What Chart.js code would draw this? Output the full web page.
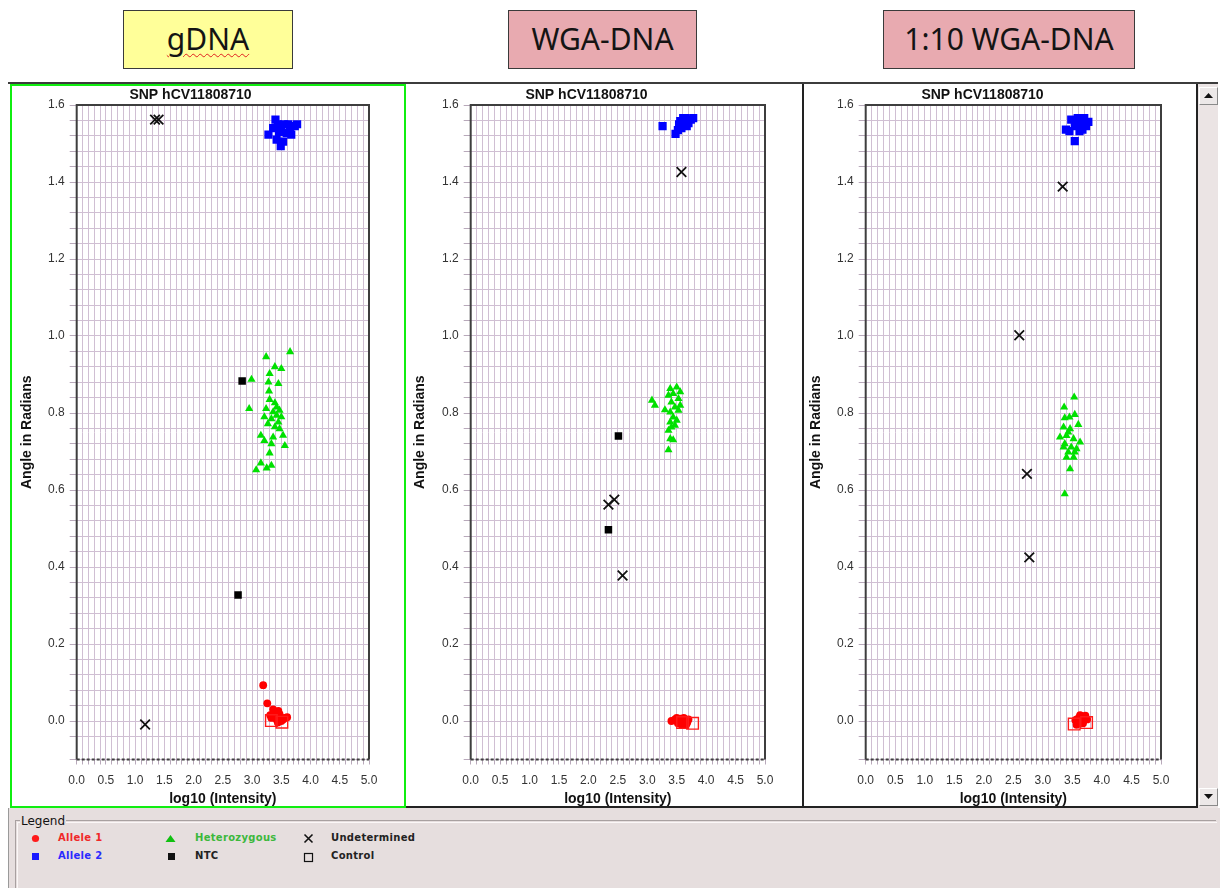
<!DOCTYPE html>
<html>
<head>
<meta charset="utf-8">
<title>SNP hCV11808710 – allelic discrimination</title>
<script src="https://cdn.jsdelivr.net/npm/chart.js@4.4.0/dist/chart.umd.min.js"></script>
<style>
  html, body { margin: 0; padding: 0; background: #ffffff; }
  body { width: 1220px; height: 888px; position: relative; overflow: hidden; font-family: "DejaVu Sans", sans-serif; }
  .tag { position: absolute; top: 10px; height: 59px; box-sizing: border-box; border: 1px solid #3a3a3a;
         display: flex; align-items: center; justify-content: center; font-family: "Noto Sans", sans-serif;
         font-size: 30px; color: #141414; padding-bottom: 2px; }
  .tag.yellow { background: #ffff99; }
  .tag.pink { background: #e8aab0; }
  .spell { text-decoration: underline wavy #e02020; text-decoration-thickness: 1px; text-underline-offset: 3px; }
  .topline { position: absolute; left: 8px; top: 82px; width: 1210px; height: 2px; background: #3c3c3c; }
  .panel { position: absolute; top: 84px; height: 724px; box-sizing: border-box; background: #fff; }
  #p1 { left: 10px; width: 396px; border: 2px solid #10ee10; }
  #p2 { left: 406px; width: 398px; border-right: 2px solid #222; border-bottom: 2px solid #222; }
  #p3 { left: 804px; width: 394px; border-right: 2px solid #222; border-bottom: 2px solid #222; }
  canvas { position: absolute; }
  .scroll { position: absolute; left: 1198px; top: 84px; width: 20px; height: 724px; background: #ebe4e4; }
  .sbtn { position: absolute; left: 1px; width: 17px; height: 16px; background: #ece8e8;
          border: 1px solid; border-color: #fff #8a8a8a #8a8a8a #fff; }
  .sbtn svg { position: absolute; left: 4px; top: 5px; }
  .legendArea { position: absolute; left: 8px; top: 808px; width: 1212px; height: 80px; background: #e6dede;
                border-left: 1px solid #9a9a9a; }
  .group { position: absolute; left: 6px; top: 12px; width: 1200px; height: 80px;
           border-left: 1px solid #a8a0a0; border-top: 1px solid #a8a0a0; }
  .group::after { content: ""; position: absolute; left: 0; top: 0; right: 0; bottom: 0;
                  border-left: 1px solid #fbf7f7; border-top: 1px solid #fbf7f7; transform: translate(1px,1px); }
  .gtitle { position: absolute; left: 11px; top: 6px; font-size: 12px; color: #111; background: #e6dede; padding: 0 1px; line-height: 14px; }
  .item { position: absolute; font-size: 10px; font-weight: bold; letter-spacing: 0.3px; line-height: 12px; }
  .mk { position: absolute; }
</style>
</head>
<body>

<div class="tag yellow" style="left:123px; width:170px;"><span class="spell">gDNA</span></div>
<div class="tag pink" style="left:508px; width:189px;">WGA-DNA</div>
<div class="tag pink" style="left:883px; width:252px;">1:10 WGA-DNA</div>

<div class="topline"></div>
<div class="panel" id="p1"><canvas id="c1" width="392" height="720" style="left:0; top:0;"></canvas></div>
<div class="panel" id="p2"><canvas id="c2" width="392" height="720" style="left:2px; top:2px;"></canvas></div>
<div class="panel" id="p3"><canvas id="c3" width="392" height="720" style="left:0; top:2px;"></canvas></div>

<div class="scroll">
  <div class="sbtn" style="top:3px;"><svg width="9" height="5"><polygon points="0,5 9,5 4.5,0" fill="#111"/></svg></div>
  <div class="sbtn" style="top:704px;"><svg width="9" height="5"><polygon points="0,0 9,0 4.5,5" fill="#111"/></svg></div>
</div>

<div class="legendArea">
  <div class="group"></div>
  <div class="gtitle">Legend</div>

  <svg class="mk" style="left:22px; top:26px;" width="9" height="9"><circle cx="4.5" cy="4.5" r="3.6" fill="#ff1a1a"/></svg>
  <div class="item" style="left:49px; top:24px; color:#f02828;">Allele 1</div>
  <svg class="mk" style="left:22px; top:44px;" width="9" height="9"><rect x="1" y="1" width="7" height="7" fill="#1a1aff"/></svg>
  <div class="item" style="left:49px; top:42px; color:#2a2aff;">Allele 2</div>

  <svg class="mk" style="left:156px; top:26px;" width="11" height="9"><polygon points="0.5,8 10.5,8 5.5,1" fill="#10c010"/></svg>
  <div class="item" style="left:186px; top:24px; color:#3cb83c;">Heterozygous</div>
  <svg class="mk" style="left:158px; top:44px;" width="9" height="9"><rect x="1" y="1" width="7" height="7" fill="#111"/></svg>
  <div class="item" style="left:186px; top:42px; color:#222;">NTC</div>

  <svg class="mk" style="left:294px; top:25px;" width="11" height="11"><path d="M1.5,1.5 L9.5,9.5 M9.5,1.5 L1.5,9.5" stroke="#111" stroke-width="1.6"/></svg>
  <div class="item" style="left:322px; top:24px; color:#222;">Undetermined</div>
  <svg class="mk" style="left:294px; top:44px;" width="11" height="11"><rect x="1.5" y="1.5" width="8" height="8" fill="none" stroke="#111" stroke-width="1.2"/></svg>
  <div class="item" style="left:322px; top:42px; color:#222;">Control</div>
</div>

<script>
// ---- axis ranges and tick labelling ----
const xRange = [0, 5];
const xStep = 0.1;          // one grid column per 0.1 log10 unit
const xLabelEvery = 0.5;
const yRange = [-0.1, 1.6];
const yStep = 0.04;         // one grid row per 0.04 rad
const yLabelEvery = 0.2;
const plotTitle = 'SNP hCV11808710';
const xTitle = 'log10 (Intensity)';
const yTitle = 'Angle in Radians';

// ---- gDNA: [log10 intensity, angle] ----
const gdnaAllele1 = [[3.19,0.093],[3.26,0.046],[3.36,0.030],[3.45,0.026],[3.31,0.015],[3.39,0.013],[3.49,0.010],[3.56,0.008],
  [3.42,0.004],[3.50,0.000],[3.33,0.008],[3.60,0.010],[3.47,0.018],[3.38,0.022],[3.53,0.004],[3.44,-0.004]];
const gdnaAllele2 = [[3.28,1.523],[3.40,1.562],[3.49,1.493],[3.42,1.510],[3.73,1.545],[3.59,1.527],[3.67,1.523],[3.50,1.545],
  [3.36,1.540],[3.55,1.550],[3.77,1.550],[3.65,1.540],[3.46,1.530],[3.53,1.505],[3.62,1.550],[3.44,1.550]];
const gdnaHet = [[3.24,0.946],[3.65,0.959],[3.39,0.920],[3.50,0.915],[2.99,0.887],[3.30,0.902],[3.28,0.880],[3.45,0.876],
  [3.29,0.857],[2.95,0.811],[3.30,0.835],[3.39,0.826],[3.24,0.811],[3.42,0.815],[3.47,0.807],[3.21,0.790],[3.33,0.785],
  [3.42,0.794],[3.27,0.772],[3.39,0.764],[3.47,0.759],[3.15,0.742],[3.36,0.737],[3.53,0.742],[3.21,0.728],[3.33,0.720],
  [3.56,0.715],[3.30,0.696],[3.15,0.670],[3.33,0.664],[3.07,0.652],[3.25,0.657],[3.45,0.776],[3.36,0.803],[3.50,0.790]];
const gdnaNtc = [[2.83,0.883],[2.76,0.327]];
const gdnaUndetermined = [[1.34,1.562],[1.40,1.562],[1.17,-0.009]];
const gdnaControl = [[3.33,0.001],[3.51,-0.003]];

// ---- WGA-DNA ----
const wgaAllele1 = [[3.41,0.000],[3.47,0.004],[3.52,-0.006],[3.56,0.006],[3.60,-0.008],[3.64,0.002],[3.68,-0.004],[3.55,-0.002],
  [3.62,0.008],[3.70,0.004],[3.58,-0.010],[3.50,0.008],[3.66,-0.010]];
const wgaAllele2 = [[3.26,1.545],[3.48,1.525],[3.56,1.558],[3.64,1.566],[3.78,1.566],[3.70,1.553],[3.58,1.540],[3.67,1.545],
  [3.61,1.566],[3.74,1.562],[3.54,1.550],[3.52,1.535]];
const wgaHet = [[3.08,0.833],[3.13,0.820],[3.30,0.808],[3.39,0.863],[3.50,0.867],[3.56,0.855],[3.44,0.850],[3.36,0.846],
  [3.53,0.837],[3.41,0.828],[3.47,0.815],[3.39,0.802],[3.53,0.807],[3.44,0.789],[3.39,0.776],[3.50,0.781],[3.41,0.763],
  [3.36,0.755],[3.47,0.768],[3.39,0.733],[3.36,0.704],[3.44,0.730],[3.56,0.820]];
const wgaNtc = [[2.51,0.740],[2.34,0.497]];
const wgaUndetermined = [[3.58,1.426],[2.34,0.562],[2.44,0.575],[2.58,0.378]];
const wgaControl = [[3.60,-0.004],[3.77,-0.006]];

// ---- 1:10 WGA-DNA ----
const dilAllele1 = [[3.58,0.005],[3.62,0.010],[3.66,0.012],[3.70,0.008],[3.60,-0.005],[3.65,0.000],[3.68,-0.006],[3.55,0.002],
  [3.72,0.014],[3.63,0.015],[3.57,-0.010],[3.75,0.004]];
const dilAllele2 = [[3.39,1.536],[3.48,1.562],[3.59,1.566],[3.70,1.566],[3.77,1.556],[3.65,1.550],[3.54,1.545],[3.62,1.532],
  [3.45,1.532],[3.54,1.506],[3.57,1.558],[3.73,1.545],[3.67,1.536]];
const dilHet = [[3.53,0.841],[3.36,0.815],[3.54,0.796],[3.37,0.787],[3.45,0.789],[3.60,0.770],[3.35,0.763],[3.46,0.759],
  [3.29,0.737],[3.40,0.741],[3.52,0.733],[3.63,0.724],[3.37,0.720],[3.48,0.711],[3.57,0.707],[3.40,0.685],[3.52,0.685],
  [3.46,0.655],[3.37,0.590],[3.43,0.750],[3.35,0.711],[3.54,0.698],[3.43,0.698]];
const dilNtc = [];
const dilUndetermined = [[3.335,1.388],[2.60,1.002],[2.73,0.642],[2.77,0.425]];
const dilControl = [[3.53,-0.008],[3.74,-0.004]];

// ---- drawing ----
Chart.defaults.font.family = "'Liberation Sans', Arial, sans-serif";
Chart.defaults.color = '#333';

const pts = arr => arr.map(([x, y]) => ({ x, y }));
const isMultiple = (v, step) => Math.abs(v / step - Math.round(v / step)) < 1e-6;
const GRID = '#d0bfd3';

// dark frame around the plotting area, dashed along the bottom
const plotFrame = {
  id: 'plotFrame',
  beforeDatasetsDraw(chart) {
    const { ctx, chartArea: a } = chart;
    ctx.save();
    ctx.strokeStyle = '#3e3e3e';
    ctx.lineWidth = 2;
    ctx.beginPath();
    ctx.moveTo(a.left, a.bottom); ctx.lineTo(a.left, a.top);
    ctx.lineTo(a.right, a.top); ctx.lineTo(a.right, a.bottom);
    ctx.stroke();
    ctx.setLineDash([3, 2]);
    ctx.beginPath(); ctx.moveTo(a.left, a.bottom); ctx.lineTo(a.right, a.bottom); ctx.stroke();
    ctx.restore();
  }
};

function drawPanel(canvasId, yAxisWidth, yTitlePad, s) {
  const datasets = [
    { label: 'Control', data: pts(s.control), pointStyle: 'rect', pointRadius: 8.2, borderWidth: 1.4,
      borderColor: '#ff1a1a', backgroundColor: 'rgba(0,0,0,0)' },
    { label: 'Undetermined', data: pts(s.undetermined), pointStyle: 'crossRot', pointRadius: 6.8, borderWidth: 1.8,
      borderColor: '#111', backgroundColor: '#111' },
    { label: 'NTC', data: pts(s.ntc), pointStyle: 'rect', pointRadius: 5.3, borderWidth: 0,
      borderColor: '#000', backgroundColor: '#000' },
    { label: 'Allele 1', data: pts(s.allele1), pointStyle: 'circle', pointRadius: 3.9, borderWidth: 0,
      borderColor: '#ff0000', backgroundColor: '#ff0000' },
    { label: 'Allele 2', data: pts(s.allele2), pointStyle: 'rect', pointRadius: 5.8, borderWidth: 0,
      borderColor: '#0000ff', backgroundColor: '#0000ff' },
    { label: 'Heterozygous', data: pts(s.het), pointStyle: 'triangle', pointRadius: 4.7, borderWidth: 0,
      borderColor: '#00e000', backgroundColor: '#00e000' }
  ];

  new Chart(document.getElementById(canvasId), {
    type: 'scatter',
    data: { datasets },
    options: {
      responsive: false,
      animation: false,
      events: [],
      layout: { padding: { top: 0, right: 35, bottom: 0, left: 0 } },
      plugins: {
        legend: { display: false },
        tooltip: { enabled: false },
        title: { display: true, text: plotTitle, color: '#111',
                 font: { size: 14, weight: 'bold', lineHeight: 1 }, padding: { top: 2, bottom: 3 } }
      },
      scales: {
        x: {
          type: 'linear', min: xRange[0], max: xRange[1],
          afterFit: sc => { sc.height = 46.5; },
          border: { display: false },
          grid: { color: GRID, lineWidth: 1, tickLength: 5, tickColor: '#b8a9ba' },
          ticks: { stepSize: xStep, autoSkip: false, maxRotation: 0, minRotation: 0, padding: 9,
                   color: '#333', font: { size: 12 },
                   callback: v => isMultiple(v, xLabelEvery) ? v.toFixed(1) : '' },
          title: { display: true, text: xTitle, color: '#111',
                   font: { size: 14, weight: 'bold', lineHeight: 1 }, padding: { top: 0, bottom: 0 } }
        },
        y: {
          type: 'linear', min: yRange[0], max: yRange[1],
          afterFit: sc => { sc.width = yAxisWidth; },
          border: { display: false },
          grid: { color: GRID, lineWidth: 1, tickLength: 7, tickColor: '#b8a9ba' },
          ticks: { stepSize: yStep, autoSkip: false, padding: 5, color: '#333', font: { size: 12 },
                   callback: v => isMultiple(v, yLabelEvery) ? v.toFixed(1) : '' },
          title: { display: true, text: yTitle, color: '#111',
                   font: { size: 14, weight: 'bold', lineHeight: 1 }, padding: { top: yTitlePad, bottom: 0 } }
        }
      }
    },
    plugins: [plotFrame]
  });
}

drawPanel('c1', 64.7, 8, { allele1: gdnaAllele1, allele2: gdnaAllele2, het: gdnaHet, ntc: gdnaNtc,
  undetermined: gdnaUndetermined, control: gdnaControl });
drawPanel('c2', 62.7, 5, { allele1: wgaAllele1, allele2: wgaAllele2, het: wgaHet, ntc: wgaNtc,
  undetermined: wgaUndetermined, control: wgaControl });
drawPanel('c3', 61.7, 5, { allele1: dilAllele1, allele2: dilAllele2, het: dilHet, ntc: dilNtc,
  undetermined: dilUndetermined, control: dilControl });
</script>
</body>
</html>
